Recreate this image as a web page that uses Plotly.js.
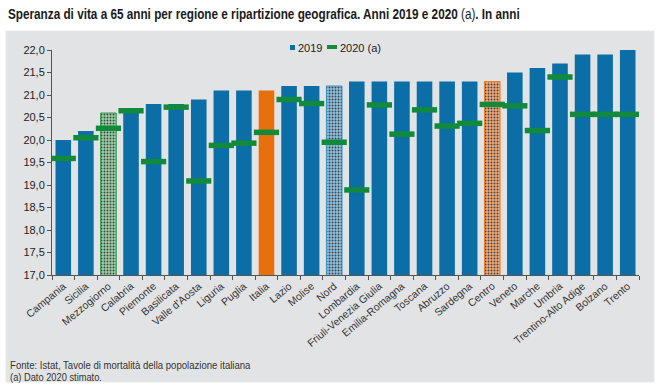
<!DOCTYPE html>
<html>
<head>
<meta charset="utf-8">
<script src="https://cdn.plot.ly/plotly-3.0.1.min.js"></script>
<style>
html,body{margin:0;padding:0;background:#fff;}
#chart{width:661px;height:387px;}
</style>
</head>
<body>
<div id="chart"></div>
<script>
const regions = ["Campania","Sicilia","Mezzogiorno","Calabria","Piemonte","Basilicata","Valle d'Aosta","Liguria","Puglia","Italia","Lazio","Molise","Nord","Lombardia","Friuli-Venezia Giulia","Emilia-Romagna","Toscana","Abruzzo","Sardegna","Centro","Veneto","Marche","Umbria","Trentino-Alto Adige","Bolzano","Trento"];
const v2019 = [20.0,20.2,20.6,20.7,20.8,20.8,20.9,21.1,21.1,21.1,21.2,21.2,21.2,21.3,21.3,21.3,21.3,21.3,21.3,21.3,21.5,21.6,21.7,21.9,21.9,22.0];
const v2020 = [19.59,20.05,20.26,20.65,19.52,20.73,19.09,19.88,19.93,20.17,20.90,20.81,19.95,18.89,20.78,20.13,20.67,20.31,20.37,20.79,20.76,20.21,21.40,20.57,20.57,20.57];
const yTicks = [17,17.5,18,18.5,19,19.5,20,20.5,21,21.5,22];
const seriesNames = ["2019","2020 (a)"];

// styles per category (special aggregates)
const BLUE = "#0b6ea6";
const GREEN = "#128a3c";
const special = {
  "Mezzogiorno": {bg:"#9bd2a7", fg:"#d4eedb", line:"#2f9a4c", shape:"."},
  "Nord":        {bg:"#8cc2e4", fg:"#d2e9f6", line:"#3a8fc0", shape:"."},
  "Centro":      {bg:"#f5ab78", fg:"#fcdcc4", line:"#ef7a22", shape:"."},
  "Italia":      {bg:"#e8700c", fg:"#e8700c", line:"#e8700c", shape:""}
};
const fillCol = regions.map(r => special[r] ? special[r].bg : BLUE);
const fgCol = regions.map(r => special[r] ? special[r].fg : BLUE);
const lineCol = regions.map(r => special[r] ? special[r].line : BLUE);
const lineW = regions.map(r => (special[r] && r !== "Italia") ? 1 : 0);
const shapesP = regions.map(r => special[r] ? special[r].shape : "");

const SANS = "Liberation Sans, Arial, sans-serif";

const traces = [
  {
    type: "bar", name: seriesNames[0], x: regions, y: v2019,
    marker: {
      color: fillCol,
      line: {color: lineCol, width: lineW},
      pattern: {shape: shapesP, fillmode: "overlay", fgcolor: fgCol, fgopacity: 1, size: 3, solidity: 0.35}
    },
    hoverinfo: "x+y"
  },
  {
    type: "scatter", mode: "markers", name: seriesNames[1], x: regions, y: v2020,
    marker: {symbol: "line-ew", size: 18, color: GREEN, line: {color: GREEN, width: 5.5}},
    hoverinfo: "x+y"
  }
];

const L = 52, R = 22, T = 50, B = 112;
const W = 661, H = 387;
const pw = W - L - R, ph = H - T - B;
const px = v => (v - L) / pw;
const py = v => (H - B - v) / ph;

const layout = {
  width: W, height: H,
  margin: {l: L, r: R, t: T, b: B, pad: 0},
  paper_bgcolor: "#ffffff",
  plot_bgcolor: "rgba(0,0,0,0)",
  separators: ",.",
  bargap: 0.31,
  showlegend: false,
  title: {
    text: "<b>Speranza di vita a 65 anni per regione e ripartizione geografica. Anni 2019 e 2020 </b>(a)<b>. In anni</b>",
    x: 8 / W, xanchor: "left", y: 1 - 14 / H, yanchor: "middle",
    font: {family: SANS, size: 14.5, color: "#1a1a1a"}
  },
  xaxis: {
    type: "category", range: [-0.5, regions.length - 0.5], tickangle: -40,
    ticks: "outside", tickson: "boundaries", ticklen: 4, tickcolor: "#555",
    showline: true, linecolor: "#555", linewidth: 1,
    tickfont: {family: SANS, size: 10.5, color: "#333"},
    showgrid: false, zeroline: false, fixedrange: true
  },
  yaxis: {
    range: [17, 22], tickvals: yTicks, tickformat: ".1f",
    ticks: "outside", ticklen: 4, tickcolor: "#555",
    showline: true, linecolor: "#555", linewidth: 1,
    tickfont: {family: SANS, size: 11, color: "#222"},
    showgrid: false, zeroline: false, fixedrange: true
  },
  shapes: [
    {type: "rect", xref: "paper", yref: "paper", layer: "below",
     x0: px(6), x1: px(654), y0: py(382), y1: py(31),
     fillcolor: "#e2e3e4", line: {color: "#e9eaea", width: 1}},
    // legend symbols
    {type: "rect", xref: "paper", yref: "paper", x0: px(290), x1: px(295), y0: py(50), y1: py(45),
     fillcolor: BLUE, line: {width: 0}},
    {type: "line", xref: "paper", yref: "paper", x0: px(327), x1: px(337), y0: py(47), y1: py(47),
     line: {color: GREEN, width: 4}}
  ],
  annotations: [
    {xref: "paper", yref: "paper", x: px(296), y: py(47.5), xanchor: "left", yanchor: "middle",
     text: seriesNames[0], showarrow: false, font: {family: SANS, size: 11, color: "#222"}},
    {xref: "paper", yref: "paper", x: px(338), y: py(47.5), xanchor: "left", yanchor: "middle",
     text: seriesNames[1], showarrow: false, font: {family: SANS, size: 11, color: "#222"}},
    {xref: "paper", yref: "paper", x: px(8), y: py(365), xanchor: "left", yanchor: "middle",
     text: "Fonte: Istat, Tavole di mortalità della popolazione italiana", showarrow: false,
     font: {family: SANS, size: 11.5, color: "#333"}},
    {xref: "paper", yref: "paper", x: px(8), y: py(377), xanchor: "left", yanchor: "middle",
     text: "(a) Dato 2020 stimato.", showarrow: false,
     font: {family: SANS, size: 11.5, color: "#333"}}
  ]
};

// horizontally condense a text element to a target width, pivoting on its left edge
function squeeze(el, targetW) {
  const bb = el.getBBox();
  if (!bb.width) return;
  const k = targetW / bb.width;
  const x0 = bb.x;
  const prev = el.getAttribute("transform") || "";
  el.setAttribute("transform", prev + ` translate(${x0},0) scale(${k},1) translate(${-x0},0)`);
}

function condense() {
  const root = document.getElementById("chart");
  const t = root.querySelector(".gtitle");
  if (t) squeeze(t, 512);
  root.querySelectorAll(".annotation-text").forEach(a => {
    const txt = a.textContent;
    if (txt.indexOf("Fonte") === 0) squeeze(a, 241);
    if (txt.indexOf("(a) Dato") === 0) squeeze(a, 92);
  });
}

Plotly.newPlot("chart", traces, layout, {displayModeBar: false, staticPlot: true}).then(condense);
</script>
</body>
</html>
